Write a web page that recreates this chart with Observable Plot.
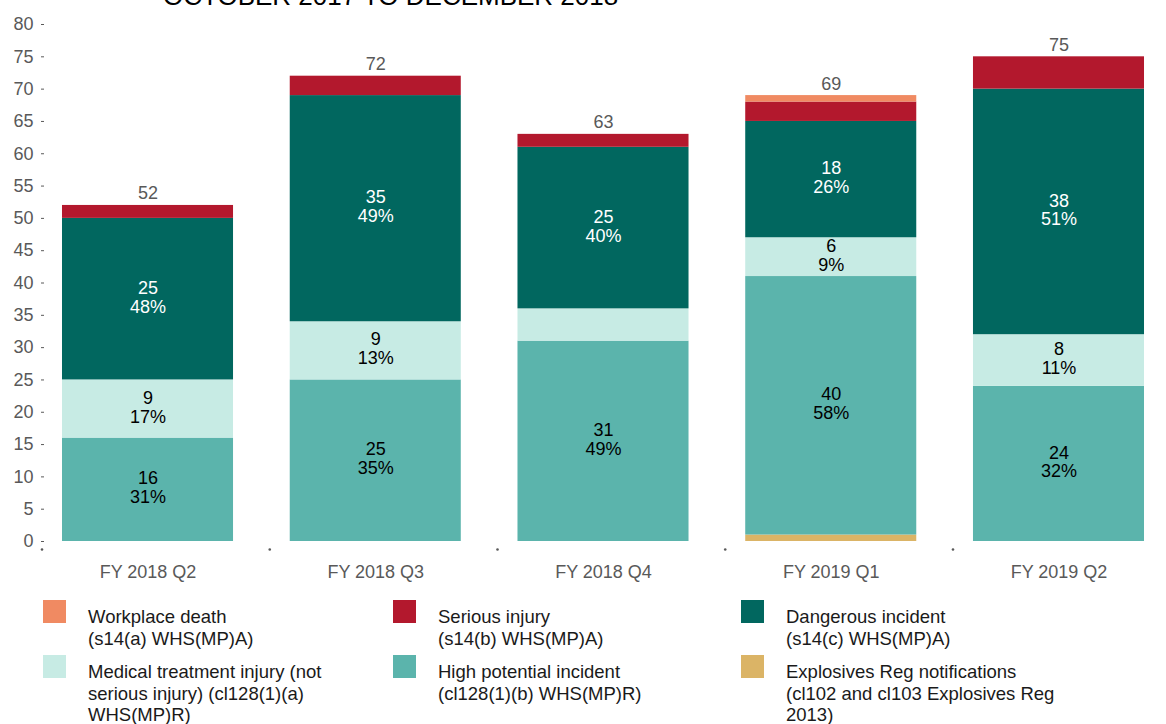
<!DOCTYPE html>
<html>
<head>
<meta charset="utf-8">
<script src="https://cdn.jsdelivr.net/npm/d3@7"></script>
<script src="https://cdn.jsdelivr.net/npm/@observablehq/plot@0.6"></script>
<style>
html, body { margin: 0; padding: 0; background: #fff; overflow: hidden; }
body { width: 1166px; height: 724px; position: relative; font-family: "Liberation Sans", Arial, sans-serif; }
#title { position: absolute; left: 163px; top: -17px; font-size: 26px; line-height: 26px; color: #000; white-space: nowrap; margin: 0; font-weight: normal; }
#chart { position: absolute; left: 0; top: 0; }
#legend { position: absolute; left: 43px; top: 600px; display: grid; grid-template-columns: 350px 348px 380px; grid-template-rows: 55px auto; }
.item { display: flex; align-items: flex-start; }
.sw { width: 23px; height: 23px; flex: none; }
.lab { margin-left: 22px; margin-top: 6px; font-size: 18.5px; line-height: 21.5px; color: #1a1a1a; white-space: pre-line; width: 290px; }
</style>
</head>
<body>
<h2 id="title">OCTOBER 2017 TO DECEMBER 2018</h2>
<div id="chart"></div>
<div id="legend"></div>
<script>
// ---- data ----
const periods = ["FY 2018 Q2", "FY 2018 Q3", "FY 2018 Q4", "FY 2019 Q1", "FY 2019 Q2"];
const totals = [52, 72, 63, 69, 75];

const explosives    = [0, 0, 0, 1, 0];
const highPotential = [16, 25, 31, 40, 24];
const medical       = [9, 9, 5, 6, 8];
const dangerous     = [25, 35, 25, 18, 38];
const serious       = [2, 3, 2, 3, 5];
const death         = [0, 0, 0, 1, 0];

// stack order: bottom to top
const seriesNames = [
  "Explosives Reg notifications\n(cl102 and cl103 Explosives Reg 2013)",
  "High potential incident\n(cl128(1)(b) WHS(MP)R)",
  "Medical treatment injury (not serious injury) (cl128(1)(a) WHS(MP)R)",
  "Dangerous incident\n(s14(c) WHS(MP)A)",
  "Serious injury\n(s14(b) WHS(MP)A)",
  "Workplace death\n(s14(a) WHS(MP)A)"
];
const seriesValues = [explosives, highPotential, medical, dangerous, serious, death];
const seriesColors = ["#DBB466", "#5BB4AC", "#C7EBE4", "#01675F", "#B3182D", "#F08A62"];
// series whose segments carry value/percent labels, and their label colours
const labelColors = [null, "#000000", "#000000", "#ffffff", null, null];
const legendOrder = [5, 4, 3, 2, 1, 0];

// ---- table ----
const rows = [];
seriesNames.forEach((s, i) => periods.forEach((p, j) => rows.push({
  period: p, series: s, si: i, value: seriesValues[i][j], total: totals[j]
})));
const totalRows = periods.map((p, j) => ({period: p, total: totals[j]}));

const segLabel = d => `${d.value}\n${Math.round(d.value / d.total * 100)}%`;
const textFor = color => d => (labelColors[d.si] === color && d.value >= 6) ? segLabel(d) : "";

const chart = Plot.plot({
  width: 1166,
  height: 590,
  marginTop: 24,
  marginBottom: 49,
  marginLeft: 44,
  marginRight: 4,
  style: {fontFamily: "Liberation Sans, Arial, sans-serif", fontSize: "18px", color: "#595959", background: "transparent", overflow: "visible"},
  x: {domain: periods, paddingInner: 0.249, paddingOuter: 0.079, round: false, label: null, tickSize: 0, tickPadding: 24},
  y: {domain: [0, 80], ticks: d3.range(0, 81, 5), label: null, tickSize: 3, tickPadding: 8},
  color: {domain: seriesNames, range: seriesColors},
  marks: [
    Plot.barY(rows, {x: "period", y: "value", fill: "series"}),
    Plot.text(rows, Plot.stackY({x: "period", y: "value", text: textFor("#000000"), fill: "#000000", fontSize: 18, lineHeight: 1.05, dy: -2})),
    Plot.text(rows, Plot.stackY({x: "period", y: "value", text: textFor("#ffffff"), fill: "#ffffff", fontSize: 18, lineHeight: 1.05, dy: -2})),
    Plot.text(totalRows, {x: "period", y: "total", text: d => String(d.total), lineAnchor: "bottom", dy: -6, fill: "#595959", fontSize: 18}),
    Plot.dot(periods, {x: d => d, y: () => 0, dx: -106, dy: 8, r: 1.3, fill: "#595959", stroke: null})
  ]
});
document.getElementById("chart").appendChild(chart);

// ---- legend ----
const legend = document.getElementById("legend");
legendOrder.forEach(i => {
  const item = document.createElement("div");
  item.className = "item";
  const sw = document.createElement("div");
  sw.className = "sw";
  sw.style.background = seriesColors[i];
  const lab = document.createElement("div");
  lab.className = "lab";
  lab.textContent = seriesNames[i];
  item.appendChild(sw);
  item.appendChild(lab);
  legend.appendChild(item);
});
</script>
</body>
</html>
